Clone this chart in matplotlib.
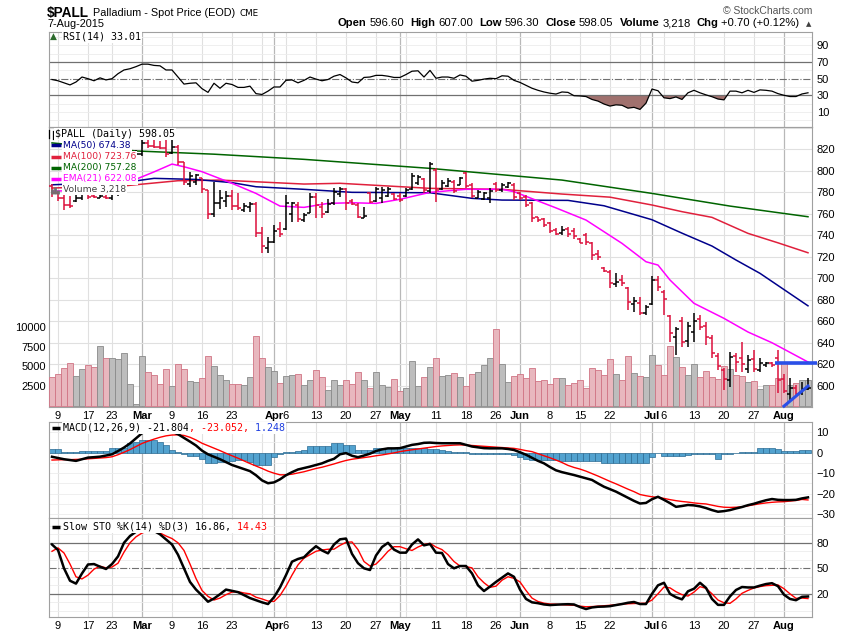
import matplotlib
matplotlib.use('Agg')
import matplotlib.pyplot as plt
from matplotlib.lines import Line2D
import numpy as np
import pandas as pd

# trading days on the chart (spot palladium, Feb 6 - Aug 7 2015)
dates = pd.bdate_range('2015-02-06', '2015-08-07')
dates = dates[~dates.isin(pd.to_datetime(['2015-02-16', '2015-04-03', '2015-05-25', '2015-07-03']))]

opens = [786, 779, 775, 768, 772, 775, 778, 777, 775, 776, 774.5, 778, 788, 795, 804, 816, 826, 823, 822, 821,
         817, 822, 808, 788, 790, 793, 782, 760, 770, 772, 777, 767, 764, 766, 769, 742, 728, 734, 746, 746,
         760, 768, 754, 761, 776, 766, 762, 770, 778, 783, 772, 768, 756, 779, 772, 775, 777, 778, 777, 777,
         783, 789, 792, 781, 801, 783, 786, 790, 787, 798, 787, 775, 774, 775, 788, 782, 785, 787, 779, 776,
         770, 757, 755, 751, 745, 742, 746, 744, 737, 740, 733, 723, 710, 706, 695, 698, 691, 676, 677, 668,
         676, 698, 687, 665, 645, 660, 642, 650, 662, 656, 644, 628, 615, 605, 628, 626, 616, 625, 615, 619,
         621.5, 626, 606, 592, 598, 593, 596.6]
highs = [788, 781, 781, 777, 777.5, 779, 782, 779, 779, 778, 779, 790, 797, 806, 819, 828.6, 828.6, 828.6, 828, 828.6,
         828.6, 824, 808.5, 799, 797, 793, 782, 790, 782, 780.8, 782, 779, 769.7, 771, 771, 748, 738.7, 749.6, 752.6, 777.5,
         771, 771, 760.4, 779, 779, 771, 773.7, 783.7, 785, 783.7, 773.7, 769.7, 766.6, 780.6, 785.2, 785, 785, 779, 779, 783.7,
         797.7, 796, 793, 808.5, 802.3, 791.5, 793, 791.4, 794.5, 799, 788.4, 782, 780.6, 783.7, 790, 788.4, 790, 788.4, 780.6, 777.5,
         771.2, 757.3, 755.8, 752.6, 746.5, 749, 748, 746.5, 737.2, 741.8, 734, 726, 710.8, 707.7, 704.6, 703, 692, 682.8, 682.8, 675,
         702.2, 702.2, 689, 665.8, 655, 664.2, 659.6, 667.4, 665.8, 659.6, 647, 630, 616.2, 631.6, 630, 641, 628.6, 633.2, 625.5, 622.3,
         622.5, 633, 611, 607, 600.6, 603.7, 607]
lows = [776, 772, 764, 765, 771, 773, 774, 775, 775, 774, 773, 777, 786, 793, 803, 814, 821, 821, 820, 813,
        816, 805, 787, 785, 787, 779, 755, 756.7, 764.6, 766, 763.5, 763.5, 762, 762, 738.7, 723.8, 723.3, 732.5, 738.7, 745,
        752.6, 752.6, 752.6, 760.4, 755.8, 755.8, 761, 768, 776, 763.5, 768, 755.8, 755.8, 769.7, 771, 769.7, 776, 772.8, 771, 776,
        782, 787, 779, 779, 771, 782, 785, 779, 786.8, 783.7, 774.4, 774.4, 772.8, 769.7, 780.6, 780.6, 784, 773, 773, 766.6,
        752.6, 752.6, 748, 741.8, 740.2, 740.2, 738.7, 737, 732.5, 731, 717, 717, 706, 690.6, 692, 693, 670.4, 668.9, 665.8, 665.8,
        675, 688, 665.8, 641, 628.6, 636.3, 636.3, 641, 651.8, 637.9, 625.5, 614.6, 596, 599, 613, 613, 612, 613, 613, 617.7,
        617.5, 593, 593, 587, 589.8, 591.3, 596.3]
closes = [779, 775, 768, 767, 775, 778, 776, 775.5, 777, 774.5, 778, 788, 795, 804, 816, 826, 823, 822, 821, 816,
          822, 808, 790, 795, 796, 783, 760, 770, 775, 777, 767, 765, 767, 769, 742, 730, 734, 744, 741, 770,
          770.5, 755, 759, 776, 768, 760, 769, 780, 783, 770, 769, 757, 758, 771, 783, 782, 783, 774, 773, 782,
          795, 794, 782, 806, 782, 789, 791, 781, 793, 786, 777, 780, 779, 781, 782, 787, 789, 776, 775, 768,
          756, 754, 750, 744, 741, 745, 741, 739, 733, 734, 722, 720, 707, 696, 697, 696, 678, 679, 668, 673,
          698, 692, 681, 649, 653, 641, 656, 660, 655, 645, 630, 618, 606, 627, 622, 620, 624, 616, 621, 621.5,
          619, 605, 595, 598, 592, 597.35, 598.05]
volume = [3650, 4050, 4810, 5450, 3790, 4690, 5200, 4940, 7620, 6090,
          6090, 6000, 6730, 2770, 220, 6350, 4300, 3920, 2770, 4690,
          2520, 5330, 4690, 3150, 3030, 3540, 6350, 5070, 3920, 3280,
          2770, 2770, 2640, 3665, 8900, 6090, 4940, 4430, 2900, 3790,
          3920, 4050, 2640, 3280, 4560, 3665, 2000, 3280, 2640, 3280,
          2770, 4300, 3280, 2260, 4300, 2640, 2390, 3410, 1880, 2260,
          5710, 2520, 3665, 4940, 6090, 3790, 3920, 4170, 3665, 2520,
          4050, 4300, 5200, 6090, 9800, 5330, 3030, 3790, 4050, 3540,
          4810, 3150, 3280, 2770, 3540, 3540, 2640, 2900, 3280, 2260,
          4810, 4560, 3920, 5960, 4050, 3280, 6350, 4170, 3790, 3665,
          6480, 5200, 3920, 7620, 6220, 4940, 3920, 5330, 3665, 4430,
          3665, 3410, 5020, 4725, 3870, 3745, 3020, 3100, 2130, 2680,
          2600, 3535, 5530, 2640, 2900, 3280, 3218]

ma50_dates = ['2015-02-06', '2015-02-26', '2015-03-04', '2015-03-13', '2015-03-23', '2015-03-27', '2015-04-09',
              '2015-04-21', '2015-05-08', '2015-05-19', '2015-05-27', '2015-06-11', '2015-06-19', '2015-07-01',
              '2015-07-09', '2015-07-16', '2015-07-22', '2015-07-28', '2015-08-07']
ma50 = [787, 789.9, 793, 792, 789, 785.2, 782.8, 780, 779.6, 774.4, 772.8, 772.5, 767.5, 754.5,
        742, 730, 717, 704.6, 674.38]
ma100_dates = ['2015-02-06', '2015-02-25', '2015-03-10', '2015-03-19', '2015-04-09', '2015-04-17', '2015-05-08',
               '2015-05-27', '2015-06-10', '2015-06-22', '2015-07-01', '2015-07-09', '2015-07-16', '2015-07-24',
               '2015-07-31', '2015-08-07']
ma100 = [784, 786, 790.8, 791.4, 787.7, 788.4, 783.7, 782.8, 778.4, 775.5, 768.2, 762, 756.7, 741.8, 733, 723.76]
ma200_dates = ['2015-02-06', '2015-02-27', '2015-03-18', '2015-04-09', '2015-05-08', '2015-06-10', '2015-07-01',
               '2015-07-21', '2015-08-07']
ma200 = [826, 818.5, 815.5, 810.7, 802.3, 791.4, 779, 767.2, 757.28]
ema21_dates = ['2015-02-06', '2015-02-23', '2015-02-26', '2015-03-04', '2015-03-09', '2015-03-11', '2015-03-16',
               '2015-03-23', '2015-03-27', '2015-04-02', '2015-04-09', '2015-04-15', '2015-04-21', '2015-04-27',
               '2015-05-01', '2015-05-08', '2015-05-18', '2015-05-27', '2015-05-29', '2015-06-09', '2015-06-16',
               '2015-06-24', '2015-06-30', '2015-07-02', '2015-07-07', '2015-07-13', '2015-07-20', '2015-07-24',
               '2015-07-30', '2015-08-07']
ema21 = [781, 783, 789.9, 799, 806.3, 803.8, 799.2, 788.4, 779, 767.2, 766, 769.7, 770.3, 769.7,
         773.5, 780, 782.8, 782.8, 780.6, 765.5, 754.2, 732.5, 715.4, 712.3, 698.4, 676.7, 662.7, 650,
         640, 622.08]

rsi = [49, 47.5, 45, 42.5, 46, 52, 50, 47.5, 51, 48.5, 50, 56, 60.5, 62, 64.5, 67.5, 67.5, 66, 65.5, 60.5,
       60.5, 52, 43.5, 44.5, 45, 38, 33.5, 44.5, 38.5, 44.5, 43, 39.5, 39.5, 41, 32, 31, 35, 40, 40, 48,
       48.5, 45, 48, 52, 49.5, 47.5, 49, 53, 55, 51, 46, 45, 51.5, 52, 54, 54, 53, 51.5, 51.5, 55,
       59, 59.5, 52, 60, 50.5, 52, 52, 50.5, 54.5, 53, 47, 48, 49.5, 50.5, 50, 53.5, 53, 48, 45.5, 42,
       38.5, 36, 34, 32.5, 31.5, 34, 33.5, 29.5, 29.2, 28.5, 25, 23, 19.5, 17, 18.5, 18, 14.5, 15.5, 13, 20.5,
       37.5, 35.5, 27, 26, 28, 25, 33, 36, 33, 30.5, 28.3, 25.5, 24.5, 35, 35, 33, 36, 33.5, 36.5, 36,
       35, 32, 30, 28.5, 28.5, 31.6, 33.01]

macd = [-2.0, -2.6, -3.2, -3.6, -4.0, -3.2, -2.4, -2.2, -1.95, -1.4, -0.8, 0.8, 2.5, 4.5, 7.0, 9.5, 11.2, 12.3, 12.6, 11.8,
        10.2, 9.0, 7.2, 5.4, 3.5, 1.0, -0.8, -2.0, -3.2, -4.6, -6.0, -7.0, -8.0, -9.0, -11.0, -13.5, -14.9, -14.5, -13.0, -11.0,
        -9.5, -8.2, -7.5, -6.8, -6.0, -5.2, -4.0, -3.0, -0.8, -0.2, -1.5, -2.2, -1.4, -0.5, 0.8, 1.6, 2.1, 2.1, 2.2, 3.0,
        3.8, 4.2, 4.8, 4.9, 4.7, 4.6, 4.6, 4.6, 4.6, 3.8, 3.0, 2.6, 2.2, 2.1, 2.1, 2.1, 1.8, 1.3, 0.2, -1.0,
        -2.5, -4.0, -5.2, -7.0, -8.6, -9.5, -10.2, -10.9, -11.7, -12.5, -13.3, -15.0, -16.6, -17.8, -19.0, -20.5, -22.0, -23.5, -24.8, -24.5,
        -22.7, -21.5, -23.0, -24.6, -26.4, -26.0, -25.5, -25.7, -26.2, -27.0, -28.0, -28.8, -28.5, -28.0, -27.2, -26.5, -25.6, -24.9, -24.0, -23.2,
        -22.6, -23.0, -23.1, -23.1, -23.0, -22.3, -21.804]
macd_signal = [-3.6, -3.5, -3.4, -3.4, -3.3, -3.2, -3.0, -2.8, -2.6, -2.4, -2.0, -1.0, 0.2, 1.5, 3.0, 4.5, 5.6, 6.6, 7.5, 8.2,
               8.6, 8.7, 8.4, 7.5, 6.2, 4.6, 3.4, 2.2, 1.0, -0.3, -1.5, -2.7, -4.0, -5.3, -6.5, -7.7, -9.0, -10.0, -10.8, -10.8,
               -10.5, -9.9, -9.3, -8.5, -7.7, -7.1, -6.3, -5.5, -4.6, -3.8, -3.2, -2.8, -2.4, -2.0, -1.5, -1.1, -0.6, -0.1, 0.5, 1.0,
               1.4, 1.8, 2.2, 2.6, 3.0, 3.3, 3.5, 3.7, 3.8, 3.7, 3.5, 3.3, 3.1, 2.9, 2.7, 2.5, 2.3, 2.1, 1.6, 1.0,
               0.5, -0.5, -1.5, -2.5, -3.6, -4.8, -6.2, -7.2, -8.0, -9.0, -10.2, -11.4, -12.7, -14.0, -15.2, -16.5, -17.8, -19.0, -20.4, -21.0,
               -21.5, -21.8, -22.3, -22.9, -23.4, -23.8, -24.1, -24.5, -24.8, -25.0, -25.6, -26.2, -26.6, -26.7, -26.6, -26.4, -25.9, -25.4, -24.9, -24.5,
               -24.2, -24.0, -23.9, -23.6, -23.3, -22.8, -23.052]
macd_hist = [1.6, 1.6, 0.5, 0.5, 0.5, 1.0, 1.0, 1.0, 1.0, 1.0, 2.1, 2.1, 2.1, 4.6, 5.4, 6.2, 6.2, 6.2, 5.4, 3.7,
             1.3, 0.5, -0.6, -1.6, -1.6, -3.2, -5.2, -5.2, -4.4, -4.4, -4.0, -3.6, -3.6, -4.5, -6.0, -6.0, -6.0, -2.0, -0.5, 0.3,
             0.5, 1.0, 1.3, 3.3, 3.3, 3.3, 3.3, 4.6, 4.6, 3.7, 3.7, 1.3, 1.3, 1.3, 2.4, 2.4, 2.4, 2.1, 2.1, 2.1,
             2.1, 2.1, 2.1, 1.6, 1.6, 1.3, 1.0, 0.5, 0.5, 0.3, -0.6, -0.6, -0.6, -0.7, -0.7, -0.7, -0.7, -1.1, -2.0, -3.0,
             -3.6, -3.6, -3.6, -3.6, -3.6, -3.9, -3.9, -3.9, -3.9, -3.9, -3.9, -4.2, -4.9, -4.9, -4.9, -4.9, -4.9, -4.9, -4.9, -4.9,
             -2.2, -0.3, -1.6, -1.6, -1.6, -1.6, -1.3, -0.8, -0.8, -0.8, -0.8, -3.0, -0.6, -0.6, -0.4, 0.3, 0.3, 0.5, 2.3, 2.5,
             2.5, 1.6, 1.0, 1.0, 0.8, 1.3, 1.248]

sto_k = [78, 71.5, 50, 35.4, 32, 44, 54.5, 55, 51.9, 49.2, 55, 64, 80, 88, 93, 95, 95, 94, 90, 84,
         78, 66, 50, 34, 25, 18, 10.7, 14.5, 19.5, 25, 23.5, 22, 18.5, 15, 12.5, 10, 8, 16, 27.5, 42,
         57.8, 61, 63, 70, 76, 71, 67.6, 78, 84.1, 85, 67, 56, 50, 48, 65, 75, 80, 72, 68.4, 68.4,
         78, 84, 77, 78.6, 68.4, 68, 55, 50, 52.7, 52.7, 44, 30, 23.3, 28.5, 34, 39, 44, 40, 25, 14,
         10, 9, 7.5, 6.8, 7.2, 7.6, 7.8, 7.5, 4.5, 2.1, 4.0, 4.8, 5, 5.5, 6.8, 8, 9.5, 10.4, 8, 8,
         20, 30, 33, 20, 16, 13.5, 23, 26, 33, 27, 14, 7, 7, 17, 24.5, 28, 27.5, 27.5, 29.6, 31.5,
         32.5, 29, 19, 14, 12.5, 16.5, 16.86]
sto_d = [70, 74, 68, 55, 40, 37.5, 42, 49, 52.5, 50.5, 51.5, 56, 69, 80, 87, 91.5, 94, 93, 91.5, 88,
         85, 80, 71, 55, 38, 24, 17, 12.7, 15, 19, 22, 22.5, 21, 20, 16, 14, 11.5, 11, 18, 29,
         42, 54, 62, 66, 70, 71.5, 72.4, 72.5, 77, 80.5, 81, 72, 58, 52.7, 55, 62, 70, 75.4, 75.4, 73,
         71, 75, 78, 79.4, 75, 72, 66, 58, 52.7, 52, 50.5, 40, 33, 27.6, 29, 36, 40.1, 38.2, 34, 24,
         15, 11, 9, 8, 7.8, 7.2, 6.8, 6.5, 5.5, 4.8, 5.0, 5.5, 6, 6.5, 7.2, 8, 8.3, 8.6, 8.8, 9.0,
         12.7, 20, 28, 27, 22.5, 19, 17.4, 22, 28.4, 26.5, 20, 12.7, 9.5, 8.8, 14, 20.6, 24, 26.9, 28.5, 29.6,
         30, 30.4, 26, 20, 14.7, 15, 14.43]

tick_dates = ['2015-02-09', '2015-02-17', '2015-02-23', '2015-03-02', '2015-03-09', '2015-03-16', '2015-03-23',
              '2015-04-01', '2015-04-06', '2015-04-13', '2015-04-20', '2015-04-27', '2015-05-01', '2015-05-11',
              '2015-05-18', '2015-05-26', '2015-06-01', '2015-06-08', '2015-06-15', '2015-06-22', '2015-07-01',
              '2015-07-06', '2015-07-13', '2015-07-20', '2015-07-27', '2015-08-03']
tick_labels = ['9', '17', '23', 'Mar', '9', '16', '23', 'Apr', '6', '13', '20', '27', 'May', '11', '18', '26',
               'Jun', '8', '15', '22', 'Jul', '6', '13', '20', '27', 'Aug']
months = ['Mar', 'Apr', 'May', 'Jun', 'Jul', 'Aug']

# support / trend lines drawn on the last bars
support_level = 621.4
trend_start, trend_end = ('2015-08-03', 581), ('2015-08-07', 599.7)

RED = '#dc103c'
GRID = '#e0e0e0'
MGRID = '#b8b8b8'
W, H = 850, 633

plt.rcParams['font.family'] = ['Liberation Sans', 'DejaVu Sans']


def box(l, t, r, b):
    return [l / W, 1 - b / H, (r - l) / W, (b - t) / H]


def pos(dlist):
    return dates.get_indexer(pd.to_datetime(dlist))


fig = plt.figure(figsize=(8.5, 6.33), dpi=100)
fig.patch.set_facecolor('white')
ax_rsi = fig.add_axes(box(49, 31.7, 812, 127))
ax_grid = fig.add_axes(box(49, 127, 812, 407))
ax_vol = ax_grid.twinx()
ax_p = ax_grid.twinx()
ax_macd = fig.add_axes(box(49, 421.7, 812, 518.3))
ax_sto = fig.add_axes(box(49, 518.3, 812, 617.3))

x = np.arange(len(dates))
o, h, l, c = map(np.array, (opens, highs, lows, closes))
up = c >= o
xl = (-0.5, len(dates) - 0.33)

week_start = [i for i in range(1, len(dates)) if dates[i].isocalendar()[1] != dates[i - 1].isocalendar()[1]]
month_start = [i for i in range(1, len(dates)) if dates[i].month != dates[i - 1].month]

for ax in (ax_rsi, ax_grid, ax_vol, ax_p, ax_macd, ax_sto):
    ax.set_xlim(*xl)
    for s in ax.spines.values():
        s.set_color('#a0a0a0')
        s.set_linewidth(0.8)
    ax.tick_params(length=0, labelsize=8)

for ax in (ax_rsi, ax_grid, ax_macd, ax_sto):
    for i in week_start:
        if i not in month_start:
            ax.axvline(i, color=GRID, lw=0.8, zorder=0)
    for i in month_start:
        ax.axvline(i, color=MGRID, lw=0.9, zorder=0)

# ---- RSI
ra = np.array(rsi)
ax_rsi.set_ylim(-8.2, 106.6)
for v in range(0, 101, 10):
    if v not in (30, 50, 70):
        ax_rsi.axhline(v, color='#ececec', lw=0.6, zorder=0)
ax_rsi.axhline(70, color='#707070', lw=0.9)
ax_rsi.axhline(30, color='#707070', lw=0.9)
ax_rsi.axhline(50, color='#707070', lw=0.8, ls='-.')
ax_rsi.fill_between(x, ra, 30, where=ra < 30, interpolate=True, color='#a0716e', lw=0)
ax_rsi.plot(x, ra, color='black', lw=0.9)
ax_rsi.set_yticks([10, 30, 50, 70, 90])
ax_rsi.yaxis.tick_right()
ax_rsi.set_xticks([])

# ---- price panel
ax_grid.set_ylim(580.2, 840.8)
for v in range(600, 841, 20):
    ax_grid.axhline(v, color=GRID, lw=0.8, zorder=0)
ax_grid.set_yticks([])
ax_grid.set_xticks(pos(tick_dates))
ax_grid.set_xticklabels(tick_labels)
ax_grid.tick_params(axis='x', pad=3)

ax_vol.set_ylim(-179, 35580)
ax_vol.bar(x, volume, width=0.86, color=np.where(up, '#bdbdbd', '#e8b7be'),
           edgecolor=np.where(up, '#8a8a8a', '#d07484'), lw=0.6)
ax_vol.yaxis.tick_left()
ax_vol.set_yticks([2500, 5000, 7500, 10000])
ax_vol.tick_params(axis='y', pad=2)
for s in ax_vol.spines.values():
    s.set_visible(False)

ax_p.set_ylim(580.2, 840.8)
ax_p.plot(pos(ma200_dates), ma200, color='#006400', lw=1.1)
ax_p.plot(pos(ma100_dates), ma100, color='#e0203c', lw=1.1)
ax_p.plot(pos(ma50_dates), ma50, color='#00008b', lw=1.1)
ax_p.plot(pos(ema21_dates), ema21, color='#ff00ff', lw=1.1)
col = np.where(up, 'black', RED)
ax_p.vlines(x, l, h, colors=col, lw=1.1)
ax_p.hlines(o, x - 0.5, x, colors=col, lw=1.1)
ax_p.hlines(c, x, x + 0.5, colors=col, lw=1.1)
ax_p.plot([pos([tick_dates[-1]])[0] - 1.5, len(dates) + 0.5], [support_level] * 2,
          color='#2a4fe8', lw=2.6, clip_on=False, solid_capstyle='butt')
ax_p.plot(pos([trend_start[0], trend_end[0]]), [trend_start[1], trend_end[1]],
          color='#2a4fe8', lw=2.2, clip_on=False)
ax_p.set_yticks(range(600, 821, 20))
ax_p.yaxis.tick_right()
ax_p.tick_params(axis='y', pad=3)
for s in ax_p.spines.values():
    s.set_visible(False)

# ---- MACD
ax_macd.set_ylim(-32, 15.1)
for v in range(-30, 15, 5):
    ax_macd.axhline(v, color='#ececec', lw=0.6, zorder=0)
ax_macd.bar(x, macd_hist, width=0.86, color='#52a2cf', edgecolor='#2b6b93', lw=0.5)
ax_macd.plot(x, macd_signal, color='#ff0000', lw=1.0)
ax_macd.plot(x, macd, color='black', lw=1.8)
ax_macd.set_yticks([10, 0, -10, -20, -30])
ax_macd.yaxis.tick_right()
ax_macd.tick_params(axis='y', pad=3)
ax_macd.set_xticks([])

# ---- Slow stochastics
ax_sto.set_ylim(-7.6, 108.8)
for v in range(0, 101, 10):
    if v not in (20, 50, 80):
        ax_sto.axhline(v, color='#ececec', lw=0.6, zorder=0)
ax_sto.axhline(80, color='#707070', lw=0.9)
ax_sto.axhline(20, color='#707070', lw=0.9)
ax_sto.axhline(50, color='#707070', lw=0.8, ls='-.')
ax_sto.plot(x, sto_d, color='#ff0000', lw=1.0)
ax_sto.plot(x, sto_k, color='black', lw=1.8)
ax_sto.set_yticks([20, 50, 80])
ax_sto.yaxis.tick_right()
ax_sto.set_xticks(pos(tick_dates))
ax_sto.set_xticklabels(tick_labels)
ax_sto.tick_params(axis='x', pad=3)

for ax in (ax_grid, ax_sto):
    for t in ax.get_xticklabels():
        if t.get_text() in months:
            t.set_fontweight('bold')

# ---- texts
rend = fig.canvas.get_renderer()
WB = dict(facecolor='white', edgecolor='none', pad=0.8)


def rich(x0, y0, parts, align='left', **common):
    items, cur = [], x0
    for s, kw, gap in parts:
        t = fig.text(cur / W, 1 - y0 / H, s, va='baseline', **{**common, **kw})
        items.append(t)
        cur += t.get_window_extent(renderer=rend).width + gap
    if align == 'right':
        shift = cur - x0
        for t in items:
            t.set_x(t.get_position()[0] - shift / W)
    return items


def mark(x0, x1, y0, color, lw=2.5):
    fig.add_artist(Line2D([x0 / W, x1 / W], [1 - y0 / H] * 2, color=color, lw=lw,
                          transform=fig.transFigure, zorder=6, solid_capstyle='butt'))


rich(47, 16.5, [('$PALL', dict(fontsize=9.8, fontweight='bold'), 4),
                ('Palladium - Spot Price (EOD)', dict(fontsize=7.8), 4),
                ('CME', dict(fontsize=6.3, family='DejaVu Sans'), 0)])
fig.text(47 / W, 1 - 27 / H, '7-Aug-2015', fontsize=7.8, va='baseline')
fig.text(812 / W, 1 - 14 / H, '\u00a9 StockCharts.com', fontsize=7.5, color='#555555', ha='right', va='baseline')
hdr = []
for lab, val in [('Open', '596.60'), ('High', '607.00'), ('Low', '596.30'), ('Close', '598.05'),
                 ('Volume', '3,218'), ('Chg', '+0.70 (+0.12%)')]:
    hdr.append((lab, dict(fontweight='bold'), 2.8))
    hdr.append((val, {}, 6.2))
hdr.append(('\u25b2', dict(fontsize=5, family='DejaVu Sans', color='#404040'), 0))
rich(811, 26.5, hdr, align='right', fontsize=8.1)

mono = dict(family='DejaVu Sans Mono', fontsize=7.2, va='center', zorder=6)
prop = dict(family='DejaVu Sans', fontsize=6.6, va='center', zorder=6)

# RSI legend
fig.text(50 / W, 1 - 36.5 / H, '\u25b2', color='#2d6b2d', fontsize=6.5, family='DejaVu Sans', va='center', zorder=6)
fig.text(63 / W, 1 - 36.5 / H, 'RSI(14) 33.01', bbox=WB, **mono)

# price legend
fig.text(55 / W, 1 - 134.3 / H, '$PALL (Daily) 598.05', bbox=WB, **mono)
for xx, y0, y1 in [(48.5, 130, 138), (52.5, 131, 139)]:
    fig.add_artist(Line2D([xx / W] * 2, [1 - y0 / H, 1 - y1 / H], color='black', lw=0.9,
                          transform=fig.transFigure, zorder=6))
rows = [('MA(50) 674.38', '#00008b', 145.3), ('MA(100) 723.76', '#e0203c', 156.5),
        ('MA(200) 757.28', '#006400', 167.8), ('EMA(21) 622.08', '#ff00ff', 179)]
for txt, cc, yy in rows:
    fig.text(63 / W, 1 - yy / H, txt, color=cc, bbox=WB, **prop)
    mark(51, 61, yy, cc)
fig.text(63 / W, 1 - 189.8 / H, 'Volume 3,218', color='#404040', bbox=WB, **prop)
for xx, hh in [(52, 5), (55, 7), (58, 4)]:
    fig.add_artist(Line2D([xx / W] * 2, [1 - 194 / H, 1 - (194 - hh) / H], color='#707070', lw=2,
                          transform=fig.transFigure, zorder=6, solid_capstyle='butt'))

# MACD legend
mark(52, 60, 428.3, 'black')
rich(63, 431, [('MACD(12,26,9) -21.804', dict(color='black'), 0), (', -23.052,', dict(color='#ff0000'), 0),
               (' 1.248', dict(color='#1f3fe0'), 0)],
     family='DejaVu Sans Mono', fontsize=7.2, bbox=WB, zorder=6)

# STO legend
mark(52, 60, 526.7, 'black')
rich(63, 529.5, [('Slow STO %K(14) %D(3) 16.86,', dict(color='black'), 0), (' 14.43', dict(color='#ff0000'), 0)],
     family='DejaVu Sans Mono', fontsize=7.2, bbox=WB, zorder=6)

fig.savefig('out.png', dpi=100, facecolor='white')
